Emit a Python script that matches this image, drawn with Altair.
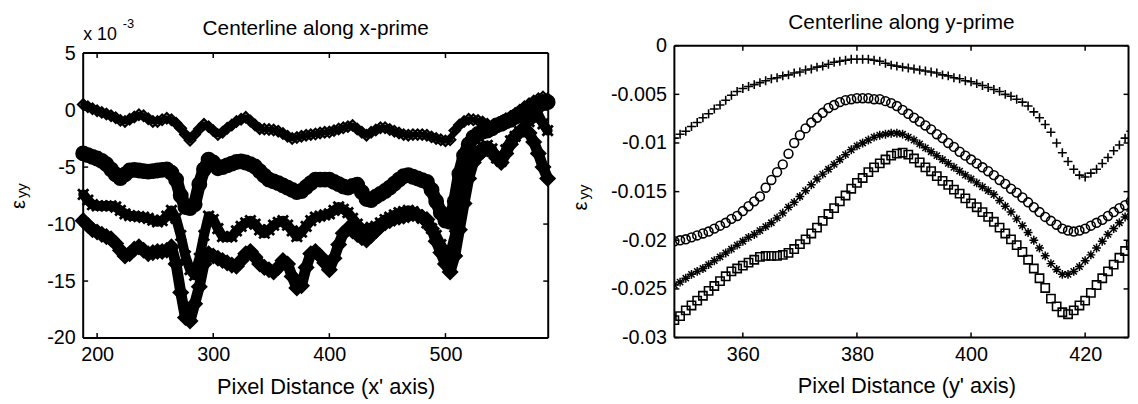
import altair as alt
import pandas as pd

FONT = "Liberation Sans"

# ---------------- left panel data (values in units of 1e-3) ----------------
left_x = list(range(188, 589, 4))
left_a = [0.5, 0.3, 0.12, -0.05, -0.2, -0.35, -0.5, -0.67, -0.9, -1.0,
          -0.8, -0.6, -0.4, -0.5, -0.75, -1.0, -1.0, -0.85, -0.71, -0.85,
          -1.15, -1.6, -2.15, -2.64, -2.15, -1.65, -1.25, -1.45, -1.8, -2.15,
          -1.95, -1.6, -1.3, -1.0, -0.8, -0.62, -0.95, -1.3, -1.63, -1.67,
          -1.7, -1.75, -1.85, -2.05, -2.3, -2.5, -2.4, -2.3, -2.2, -2.15,
          -2.1, -2.0, -1.95, -1.92, -1.8, -1.65, -1.55, -1.45, -1.34, -1.65,
          -1.95, -2.2, -1.95, -1.75, -1.55, -1.55, -1.7, -1.85, -2.0, -2.15,
          -2.2, -2.15, -2.15, -2.15, -2.2, -2.35, -2.5, -2.6, -2.7, -2.6,
          -1.8, -1.3, -1.0, -0.8, -0.85, -0.9, -1.05, -1.25, -1.6, -1.3,
          -1.0, -0.75, -0.55, -0.3, 0.0, 0.3, 0.55, 0.8, 1.0, 1.15,
          1.0]
left_b = [-3.8, -3.95, -4.1, -4.25, -4.45, -4.75, -5.2, -5.65, -5.96, -5.65,
          -5.3, -5.25, -5.3, -5.35, -5.4, -5.35, -5.3, -5.25, -5.2, -5.5,
          -6.1, -7.5, -8.5, -8.6, -8.27, -6.5, -5.2, -4.35, -4.6, -5.1,
          -5.0, -4.85, -4.7, -4.55, -4.5, -4.6, -4.75, -4.95, -5.35, -5.75,
          -6.1, -6.25, -6.4, -6.6, -6.8, -7.0, -7.2, -7.1, -6.75, -6.4,
          -6.1, -6.1, -6.1, -6.1, -6.3, -6.5, -6.7, -6.8, -6.65, -6.55,
          -7.2, -7.8, -7.9, -7.6, -7.35, -7.1, -6.8, -6.45, -6.1, -5.8,
          -5.7, -5.85, -6.0, -6.15, -6.3, -7.0, -8.0, -9.0, -9.7, -9.8,
          -8.0, -5.6, -4.0, -3.0, -2.4, -2.1, -1.9, -1.8, -1.6, -1.35,
          -1.2, -1.0, -0.85, -0.6, -0.35, -0.1, 0.1, 0.35, 0.5, 0.65,
          0.7]
left_c = [-7.4, -7.9, -8.3, -8.4, -8.4, -8.4, -8.4, -8.5, -8.8, -9.1,
          -9.25, -9.3, -9.35, -9.4, -9.5, -9.65, -9.8, -9.7, -9.3, -8.8,
          -9.5, -11.0, -12.8, -14.0, -14.5, -13.0, -11.0, -9.3, -9.6, -10.4,
          -11.1, -11.15, -11.1, -10.6, -10.2, -9.9, -9.7, -10.0, -10.5, -10.8,
          -10.5, -10.1, -9.85, -9.7, -10.1, -10.6, -11.1, -10.7, -10.2, -9.7,
          -9.4, -9.3, -9.2, -9.1, -8.8, -8.5, -8.7, -9.0, -9.5, -10.0,
          -10.4, -10.5, -10.3, -10.2, -9.9, -9.6, -9.4, -9.2, -9.0, -8.9,
          -8.8, -8.9, -9.2, -9.5, -9.9, -10.4, -11.0, -11.8, -12.5, -12.6,
          -11.0, -8.3, -6.2, -5.0, -4.2, -3.6, -3.2, -3.1, -3.4, -4.2,
          -4.5, -3.5, -2.7, -2.3, -1.9, -1.4, -1.0, -0.7, -0.4, -1.2,
          -1.8]
left_d = [-9.7, -10.1, -10.5, -10.7, -10.9, -11.1, -11.3, -11.7, -12.3, -12.8,
          -12.6, -12.2, -12.0, -12.3, -12.6, -12.5, -12.4, -12.4, -12.3, -12.0,
          -13.5, -16.0, -18.2, -18.5, -17.0, -15.5, -13.5, -12.6, -12.8, -13.0,
          -13.2, -13.4, -13.6, -13.7, -13.2, -12.6, -12.4, -12.9, -13.5, -13.8,
          -14.0, -14.2, -13.8, -13.2, -13.5, -14.6, -15.6, -15.4, -13.8, -12.6,
          -12.4, -12.8, -13.4, -14.0, -13.0, -11.8, -10.8, -10.4, -10.6, -10.9,
          -11.2, -11.4, -11.0, -10.6, -10.2, -9.9, -9.7, -9.5, -9.4, -9.3,
          -9.2, -9.1, -9.2, -9.4, -9.6, -10.4, -11.5, -12.5, -13.5, -14.2,
          -12.8, -10.5, -8.2, -6.0, -4.6, -4.0, -3.6, -3.4, -3.7, -4.2,
          -4.6, -3.8, -3.0, -2.3, -1.9, -1.6, -2.0, -2.8, -3.8, -5.0,
          -6.0]

# ---------------- right panel data ----------------
right_x = list(range(348, 429))
right_plus = [-0.0095, -0.0091, -0.0088, -0.0083, -0.0079, -0.0074, -0.0070, -0.0065, -0.0061, -0.0056,
              -0.0051, -0.0047, -0.0044, -0.0042, -0.0040, -0.0038, -0.0036, -0.0034, -0.0033, -0.0031,
              -0.0030, -0.0028, -0.0027, -0.0025, -0.0024, -0.0022, -0.0021, -0.0019, -0.0017, -0.0016,
              -0.0015, -0.0014, -0.0014, -0.0014, -0.0014, -0.0015, -0.0016, -0.0018, -0.0020, -0.0021,
              -0.0022, -0.0023, -0.0024, -0.0025, -0.0026, -0.0027, -0.0028, -0.0030, -0.0031, -0.0033,
              -0.0034, -0.0036, -0.0037, -0.0039, -0.0041, -0.0043, -0.0045, -0.0047, -0.0050, -0.0052,
              -0.0055, -0.0058, -0.0062, -0.0068, -0.0074, -0.0081, -0.0089, -0.0100, -0.0110, -0.0119,
              -0.0127, -0.0133, -0.0135, -0.0131, -0.0127, -0.0121, -0.0115, -0.0108, -0.0102, -0.0095,
              -0.0088]
right_circle = [-0.0201, -0.0200, -0.0199, -0.0197, -0.0195, -0.0193, -0.0191, -0.0188, -0.0185, -0.0182,
                -0.0178, -0.0175, -0.0170, -0.0165, -0.0160, -0.0155, -0.0146, -0.0138, -0.0130, -0.0122,
                -0.0111, -0.0100, -0.0092, -0.0085, -0.0079, -0.0074, -0.0069, -0.0064, -0.0061, -0.0058,
                -0.0056, -0.0055, -0.0054, -0.0054, -0.0054, -0.0055, -0.0055, -0.0057, -0.0059, -0.0062,
                -0.0066, -0.0070, -0.0074, -0.0078, -0.0082, -0.0086, -0.0091, -0.0095, -0.0100, -0.0104,
                -0.0109, -0.0113, -0.0117, -0.0121, -0.0125, -0.0129, -0.0133, -0.0138, -0.0142, -0.0147,
                -0.0151, -0.0156, -0.0161, -0.0166, -0.0171, -0.0176, -0.0180, -0.0184, -0.0188, -0.0190,
                -0.0191, -0.0190, -0.0188, -0.0185, -0.0182, -0.0179, -0.0175, -0.0171, -0.0167, -0.0164,
                -0.0160]
right_star = [-0.0246, -0.0243, -0.0239, -0.0235, -0.0232, -0.0229, -0.0225, -0.0221, -0.0217, -0.0213,
              -0.0209, -0.0205, -0.0201, -0.0197, -0.0194, -0.0190, -0.0186, -0.0182, -0.0177, -0.0172,
              -0.0166, -0.0161, -0.0155, -0.0149, -0.0143, -0.0137, -0.0132, -0.0127, -0.0122, -0.0117,
              -0.0112, -0.0107, -0.0103, -0.0100, -0.0097, -0.0094, -0.0092, -0.0091, -0.0090, -0.0090,
              -0.0091, -0.0094, -0.0097, -0.0101, -0.0105, -0.0109, -0.0113, -0.0117, -0.0121, -0.0125,
              -0.0129, -0.0133, -0.0137, -0.0141, -0.0145, -0.0149, -0.0153, -0.0159, -0.0165, -0.0171,
              -0.0178, -0.0185, -0.0192, -0.0200, -0.0208, -0.0216, -0.0224, -0.0230, -0.0235, -0.0235,
              -0.0232, -0.0227, -0.0221, -0.0215, -0.0208, -0.0201, -0.0194, -0.0188, -0.0182, -0.0176,
              -0.0170]
right_square = [-0.0282, -0.0278, -0.0272, -0.0267, -0.0262, -0.0257, -0.0252, -0.0247, -0.0242, -0.0237,
                -0.0232, -0.0229, -0.0226, -0.0223, -0.0220, -0.0217, -0.0216, -0.0216, -0.0216, -0.0215,
                -0.0213, -0.0209, -0.0204, -0.0199, -0.0193, -0.0187, -0.0180, -0.0173, -0.0167, -0.0160,
                -0.0154, -0.0147, -0.0141, -0.0136, -0.0130, -0.0125, -0.0121, -0.0117, -0.0113, -0.0111,
                -0.0110, -0.0112, -0.0116, -0.0120, -0.0125, -0.0129, -0.0134, -0.0139, -0.0143, -0.0148,
                -0.0152, -0.0157, -0.0162, -0.0166, -0.0171, -0.0176, -0.0181, -0.0187, -0.0193, -0.0199,
                -0.0205, -0.0212, -0.0220, -0.0229, -0.0239, -0.0249, -0.0260, -0.0268, -0.0274, -0.0276,
                -0.0272, -0.0267, -0.0262, -0.0254, -0.0246, -0.0239, -0.0232, -0.0225, -0.0218, -0.0211,
                -0.0205]

left_xticks = [200, 300, 400, 500]
left_yticks = [5, 0, -5, -10, -15, -20]
right_xticks = [360, 380, 400, 420]
right_yticks = [0, -0.005, -0.01, -0.015, -0.02, -0.025, -0.03]

# marker glyphs (unit-square paths)
PLUS = "M-1,0L1,0M0,-1L0,1"
XCROSS = "M-0.8,-0.8L0.8,0.8M-0.8,0.8L0.8,-0.8"
ASTER = "M-1,0L1,0M0,-1L0,1M-0.7,-0.7L0.7,0.7M-0.7,0.7L0.7,-0.7"

LABEL_EXPR = "replace(format(datum.value, ''), '\u2212', '-')"
TICK = 5
ONE = pd.DataFrame({"k": [0]})


def series_df(xs, ys):
    n = min(len(xs), len(ys))
    return pd.DataFrame({"x": xs[:n], "y": ys[:n]})


def spacer(x, y, align):
    # invisible anchor that fixes the extent of a panel's bounds
    return (alt.Chart(ONE)
            .mark_text(text=".", opacity=0, fontSize=4, baseline="top", align=align)
            .encode(x=alt.value(x), y=alt.value(y)))


def label(text, x, y, size, **kw):
    return (alt.Chart(ONE)
            .mark_text(text=text, font=FONT, fontSize=size, color="black", **kw)
            .encode(x=alt.value(x), y=alt.value(y)))


def panel(W, H, top, xdom, ydom, xticks, yticks, xtitle, title, series, clip,
          title_dy, xtitle_dx, eps_x, eps_y, extra):
    """top = vertical offset of the plot frame inside the panel group."""
    xs = alt.Scale(domain=xdom, nice=False, zero=False)
    ys = alt.Scale(domain=ydom, nice=False, zero=False, range=[H, top])
    xaxis = alt.Axis(values=xticks, ticks=False, domain=False, grid=False,
                     labelFont=FONT, labelFontSize=20, labelColor="black",
                     labelPadding=7, labelFlush=False, labelOverlap=False,
                     title=xtitle, titleFont=FONT, titleFontSize=22,
                     titleFontWeight="normal", titleColor="black",
                     titlePadding=12, titleX=W / 2 + xtitle_dx)
    yaxis = alt.Axis(values=yticks, ticks=False, domain=False, grid=False,
                     labelFont=FONT, labelFontSize=20, labelColor="black",
                     labelPadding=8, labelFlush=False, labelOverlap=False,
                     labelExpr=LABEL_EXPR, title=None)
    X = alt.X("x:Q", scale=xs, axis=xaxis)
    Y = alt.Y("y:Q", scale=ys, axis=yaxis)

    layers = []
    for xv, vals, shape, size, sw, band in series:
        df = series_df(xv, vals)
        if band:
            # dense run of overlapping markers reads as a solid band
            layers.append(
                alt.Chart(df)
                .mark_line(color="black", strokeWidth=band, strokeJoin="round",
                           strokeCap="round", clip=clip)
                .encode(x=X, y=Y)
            )
        layers.append(
            alt.Chart(df)
            .mark_point(shape=shape, size=size, filled=False, color="black",
                        strokeWidth=sw, opacity=1, clip=clip)
            .encode(x=X, y=Y)
        )
    xt = pd.DataFrame({"x": xticks})
    yt = pd.DataFrame({"y": yticks})
    rule = dict(color="black", strokeWidth=1.5)
    frame = dict(color="black", strokeWidth=2)
    layers += [
        # inward ticks on all four sides
        alt.Chart(xt).mark_rule(**rule).encode(x=X, y=alt.value(H), y2=alt.value(H - TICK)),
        alt.Chart(xt).mark_rule(**rule).encode(x=X, y=alt.value(top), y2=alt.value(top + TICK)),
        alt.Chart(yt).mark_rule(**rule).encode(y=Y, x=alt.value(0), x2=alt.value(TICK)),
        alt.Chart(yt).mark_rule(**rule).encode(y=Y, x=alt.value(W - TICK), x2=alt.value(W)),
        # box
        alt.Chart(ONE).mark_rule(**frame).encode(x=alt.value(0), x2=alt.value(W), y=alt.value(top)),
        alt.Chart(ONE).mark_rule(**frame).encode(x=alt.value(0), x2=alt.value(W), y=alt.value(H)),
        alt.Chart(ONE).mark_rule(**frame).encode(x=alt.value(0), y=alt.value(top), y2=alt.value(H)),
        alt.Chart(ONE).mark_rule(**frame).encode(x=alt.value(W), y=alt.value(top), y2=alt.value(H)),
    ]
    # panel title
    layers.append(label(title, W / 2, title_dy, 21, align="center", baseline="alphabetic"))
    # y label: epsilon with subscript yy (rotated)
    layers.append(label("\u03b5", eps_x, eps_y, 20, align="center",
                        baseline="alphabetic", angle=270))
    layers.append(label("yy", eps_x + 2, eps_y - 14, 15, align="center",
                        baseline="alphabetic", angle=270))
    layers += extra
    return (alt.layer(*layers)
            .properties(width=W, height=H, view=alt.ViewBackground(stroke="transparent")))


# left panel: plot frame starts 7.5 px below the right one
LW, LTOP, LH = 470, 7.5, 295.5
RW, RH = 459, 295

left = panel(
    LW, LH, LTOP, [188, 588.5], [-20, 5], left_xticks, left_yticks,
    "Pixel Distance (x' axis)", "Centerline along x-prime",
    [(left_x, left_a, "diamond", 110, 2.2, 6),
     (left_x, left_b, "circle", 180, 2.6, 13),
     (left_x, left_c, XCROSS, 170, 2.8, 10),
     (left_x, left_d, "diamond", 185, 2.6, 11)],
    clip=False, title_dy=-11, xtitle_dx=10, eps_x=-59, eps_y=160.5,
    extra=[
        label("x 10", 0, -6, 18, align="left", baseline="alphabetic"),
        label("-3", 40, -18, 13, align="left", baseline="alphabetic"),
        spacer(-74.5, 0, "left"),
        spacer(LW + 12, 0, "right"),
    ])

right = panel(
    RW, RH, 0, [348, 427.6], [-0.03, 0], right_xticks, right_yticks,
    "Pixel Distance (y' axis)", "Centerline along y-prime",
    [(right_x, right_plus, PLUS, 81, 1.6, 0), (right_x, right_circle, "circle", 80, 1.6, 0),
     (right_x, right_star, ASTER, 81, 1.5, 0), (right_x, right_square, "square", 70, 1.6, 0)],
    clip=True, title_dy=-17, xtitle_dx=5, eps_x=-88, eps_y=162,
    extra=[spacer(-104, -35, "left")])

chart = (
    alt.concat(left, right, columns=2, align="none", spacing=9.5)
    .properties(padding={"left": 0, "top": 0, "right": 0, "bottom": 0},
                background="white")
)

chart.save("out.html", embed_options={"renderer": "svg", "actions": False})
